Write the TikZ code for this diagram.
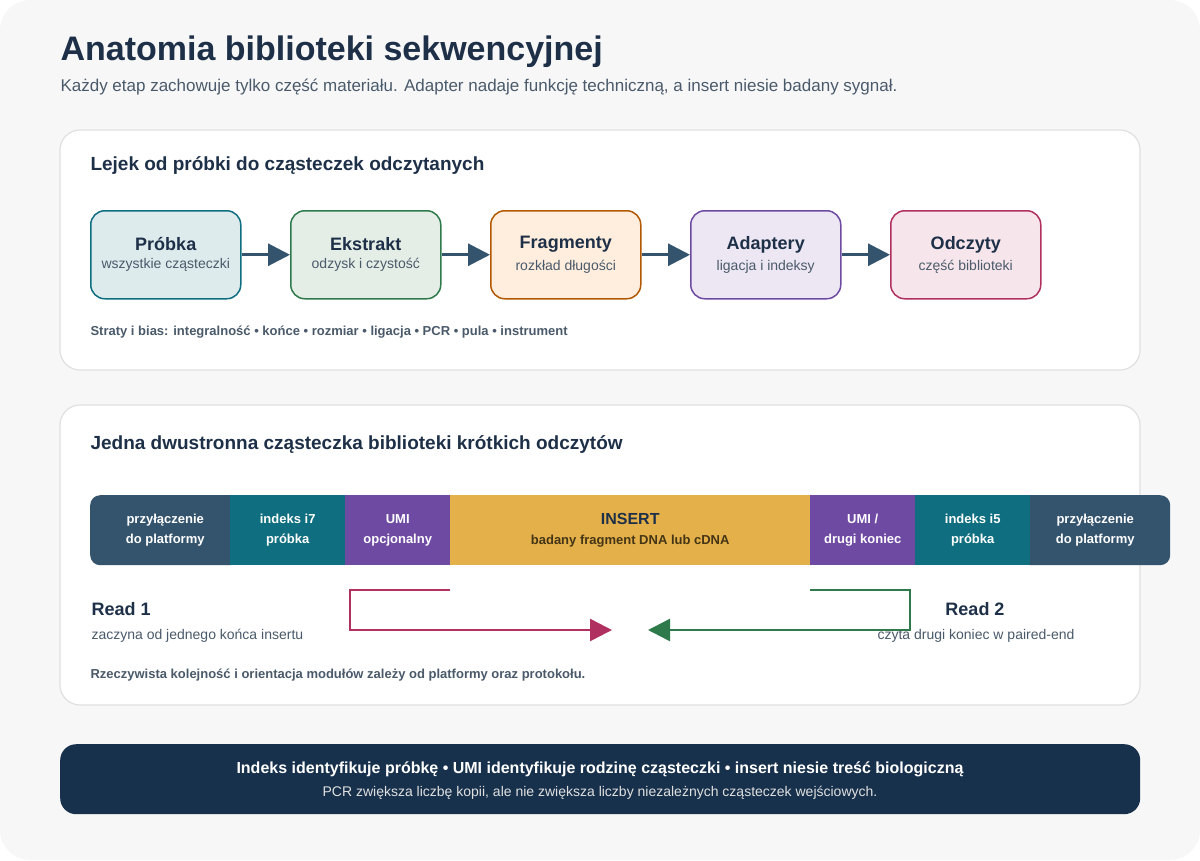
\documentclass[tikz,border=0pt]{standalone}
\usepackage{fontspec}
\setmainfont{Liberation Sans}
\usetikzlibrary{arrows.meta}
\definecolor{ink}{HTML}{1E3048}
\definecolor{muted}{HTML}{4A5A6A}
\definecolor{slate}{HTML}{34546E}
\definecolor{tealc}{HTML}{0F6E80}
\definecolor{purp}{HTML}{6F4AA3}
\definecolor{gold}{HTML}{E4B04A}
\definecolor{navy}{HTML}{17304B}
\definecolor{redl}{HTML}{B0305F}
\definecolor{greenl}{HTML}{2F7A4A}
\tikzstyle{panel}=[draw=black!12, fill=white, rounded corners=20pt, line width=1.2pt]
\tikzstyle{stage}=[rounded corners=14pt, line width=1.5pt, minimum width=150pt, minimum height=88pt, anchor=north west, align=center, text=ink]
\tikzstyle{flow}=[-{Triangle[length=22pt,width=22pt]}, line width=3pt, draw=slate]
\tikzstyle{seg}=[anchor=north west, minimum height=70pt, inner sep=0pt, align=center, text=white, font=\fontsize{13}{20}\selectfont\bfseries]
\tikzstyle{readarrow}=[-{Triangle[length=22pt,width=22pt]}, line width=2.5pt]

\begin{document}
\begin{tikzpicture}[x=1pt,y=-1pt]
\fill[blue!2!black!3!white, rounded corners=30pt] (0,0) rectangle (1200,860);
\useasboundingbox (0,0) rectangle (1200,860);
\node[anchor=west, text=ink, font=\fontsize{34}{40}\selectfont\bfseries] (title) at (57,52) {Anatomia biblioteki sekwencyjnej};
\node[anchor=west, text=muted, font=\fontsize{17}{20}\selectfont] (subtitle) at (57,87) {Każdy etap zachowuje tylko część materiału. Adapter nadaje funkcję techniczną, a insert niesie badany sygnał.};

% panel 1
\draw[panel] (60,130) rectangle (1140,370);
\node[anchor=west, text=ink, font=\fontsize{19}{22}\selectfont\bfseries] (funnel) at (87,165) {Lejek od próbki do cząsteczek odczytanych};
\node[stage, draw=tealc, fill=tealc!14] (S1) at (90,210) {{\fontsize{18}{22}\selectfont\bfseries Próbka}\\[6pt]{\fontsize{14}{16}\selectfont\color{muted}wszystkie cząsteczki}};
\node[stage, draw=greenl, fill=greenl!13] (S2) at (290,210) {{\fontsize{18}{22}\selectfont\bfseries Ekstrakt}\\[6pt]{\fontsize{14}{16}\selectfont\color{muted}odzysk i czystość}};
\node[stage, draw=orange!70!black, fill=orange!13] (S3) at (490,210) {{\fontsize{18}{22}\selectfont\bfseries Fragmenty}\\[6pt]{\fontsize{14}{16}\selectfont\color{muted}rozkład długości}};
\node[stage, draw=purp, fill=purp!13] (S4) at (690,210) {{\fontsize{18}{22}\selectfont\bfseries Adaptery}\\[6pt]{\fontsize{14}{16}\selectfont\color{muted}ligacja i indeksy}};
\node[stage, draw=redl, fill=redl!12] (S5) at (890,210) {{\fontsize{18}{22}\selectfont\bfseries Odczyty}\\[6pt]{\fontsize{14}{16}\selectfont\color{muted}część biblioteki}};
\draw[flow] (S1) -- (S2);
\draw[flow] (S2) -- (S3);
\draw[flow] (S3) -- (S4);
\draw[flow] (S4) -- (S5);
\node[anchor=west, text=muted, font=\fontsize{13}{16}\selectfont\bfseries] (bias) at (87,332) {Straty i bias: integralność • końce • rozmiar • ligacja • PCR • pula • instrument};

% panel 2
\draw[panel] (60,405) rectangle (1140,705);
\node[anchor=west, text=ink, font=\fontsize{19}{22}\selectfont\bfseries] (molecule) at (87,444) {Jedna dwustronna cząsteczka biblioteki krótkich odczytów};
\node[seg, fill=slate, rounded corners=10pt, minimum width=150pt] (P1) at (90,495) {przyłączenie\\do platformy};
\node[seg, fill=slate, rounded corners=10pt, minimum width=150pt] (P2) at (1020,495) {przyłączenie\\do platformy};
\node[seg, fill=tealc, minimum width=115pt] (I7) at (230,495) {indeks i7\\próbka};
\node[seg, fill=purp, minimum width=105pt] (U1) at (345,495) {UMI\\opcjonalny};
\node[seg, fill=gold, minimum width=360pt, text=ink] (INS) at (450,495) {{\fontsize{16}{20}\selectfont INSERT}\\{\color{black!70!gold}badany fragment DNA lub cDNA}};
\node[seg, fill=purp, minimum width=105pt] (U2) at (810,495) {UMI /\\drugi koniec};
\node[seg, fill=tealc, minimum width=115pt] (I5) at (915,495) {indeks i5\\próbka};

\node[anchor=west, text=ink, font=\fontsize{18}{22}\selectfont\bfseries] (R1) at (88,609) {Read 1};
\node[anchor=west, text=muted, font=\fontsize{14}{16}\selectfont] (R1t) at (88,636) {zaczyna od jednego końca insertu};
\node[text=ink, font=\fontsize{18}{22}\selectfont\bfseries] (R2) at (975,609) {Read 2};
\node[text=muted, font=\fontsize{14}{16}\selectfont] (R2t) at (976,636) {czyta drugi koniec w paired-end};
\coordinate (r1s) at (450,590);
\coordinate (r1e) at (612,630);
\coordinate (r2s) at (810,590);
\coordinate (r2e) at (648,630);
\draw[readarrow, draw=redl] (r1s) -- (350,590) -- (350,630) -- (r1e);
\draw[readarrow, draw=greenl] (r2s) -- (910,590) -- (910,630) -- (r2e);
\node[anchor=west, text=muted, font=\fontsize{13}{16}\selectfont\bfseries] (note) at (87,675) {Rzeczywista kolejność i orientacja modułów zależy od platformy oraz protokołu.};

% footer
\node[fill=navy, rounded corners=16pt, minimum width=1080pt, minimum height=70pt, anchor=north west, inner sep=0pt] (footer) at (60,744) {};
\node[text=white, font=\fontsize{16}{20}\selectfont\bfseries] (f1) at (600,769) {Indeks identyfikuje próbkę • UMI identyfikuje rodzinę cząsteczki • insert niesie treść biologiczną};
\node[text=black!12, font=\fontsize{14}{16}\selectfont] (f2) at (600,793) {PCR zwiększa liczbę kopii, ale nie zwiększa liczby niezależnych cząsteczek wejściowych.};
\end{tikzpicture}
\end{document}
